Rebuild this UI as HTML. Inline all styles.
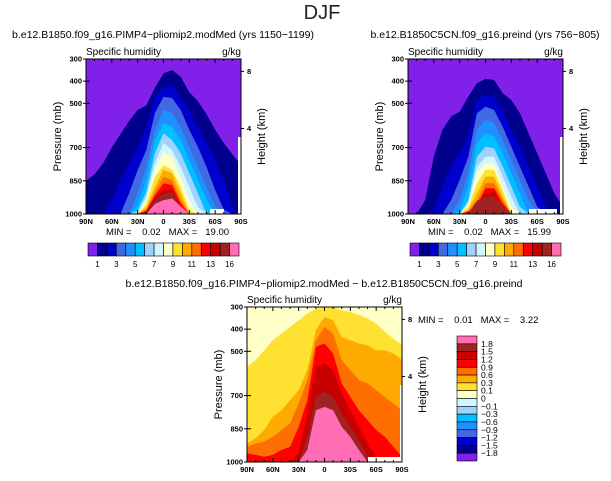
<!DOCTYPE html>
<html><head><meta charset="utf-8">
<style>
html,body{margin:0;padding:0;background:#fff;}
svg{display:block;font-family:"Liberation Sans",sans-serif;}
.pre{white-space:pre;}
</style></head>
<body>
<svg id="chart" width="611" height="481" viewBox="0 0 611 481" xmlns="http://www.w3.org/2000/svg">
<text x="322" y="19" font-size="20" font-weight="300" text-anchor="middle" fill="#222">DJF</text>
<text x="163" y="38" font-size="10.5" text-anchor="middle">b.e12.B1850.f09_g16.PIMP4−pliomip2.modMed (yrs 1150−1199)</text>
<text x="485" y="38" font-size="10.5" text-anchor="middle">b.e12.B1850C5CN.f09_g16.preind (yrs 756−805)</text>
<text x="324" y="287" font-size="10.5" text-anchor="middle">b.e12.B1850.f09_g16.PIMP4−pliomip2.modMed − b.e12.B1850C5CN.f09_g16.preind</text>
</svg>
<script>
// latitude grid (90N .. 90S, positive = north)
const lats = [90,80,70,60,50,40,30,20,10,0,-10,-20,-30,-40,-50,-60,-70,-80,-90];
const xTickLabels = ["90N","60N","30N","0","30S","60S","90S"];
const xTickValues = [90,60,30,0,-30,-60,-90];
const pTickValues = [300,400,500,700,850,1000];
const hTickValues = [8,4];
const hTickPressure = [356,614];
// contour-top pressure (mb) per latitude for each filled level
const panel1Levels = [
 [851,820,770,700,640,580,530,510,430,365,350,380,450,490,550,620,680,730,780],
 [1000,1000,1000,937,846,770,697,607,471,427,417,471,530,607,680,756,846,968,1000],
 [1000,1000,1000,1000,1000,907,801,711,544,471,476,530,620,697,788,892,980,1000,1000],
 [1000,1000,1000,1000,1000,1000,907,788,620,530,544,607,697,788,878,968,1000,1000,1000],
 [1000,1000,1000,1000,1000,1000,960,846,666,589,607,666,756,846,937,1000,1000,1000,1000],
 [1000,1000,1000,1000,1000,1000,985,900,726,635,666,726,816,907,1000,1000,1000,1000,1000],
 [1000,1000,1000,1000,1000,1000,1000,920,770,680,711,788,878,968,1000,1000,1000,1000,1000],
 [1000,1000,1000,1000,1000,1000,1000,940,801,720,741,833,937,1000,1000,1000,1000,1000,1000],
 [1000,1000,1000,1000,1000,1000,1000,955,833,779,801,878,983,1000,1000,1000,1000,1000,1000],
 [1000,1000,1000,1000,1000,1000,1000,970,878,801,816,907,1000,1000,1000,1000,1000,1000,1000],
 [1000,1000,1000,1000,1000,1000,1000,980,900,833,846,937,1000,1000,1000,1000,1000,1000,1000],
 [1000,1000,1000,1000,1000,1000,1000,985,915,862,869,951,1000,1000,1000,1000,1000,1000,1000],
 [1000,1000,1000,1000,1000,1000,1000,990,925,892,892,968,1000,1000,1000,1000,1000,1000,1000],
 [1000,1000,1000,1000,1000,1000,1000,1000,940,908,900,975,1000,1000,1000,1000,1000,1000,1000],
 [1000,1000,1000,1000,1000,1000,1000,1000,955,937,930,965,1000,1000,1000,1000,1000,1000,1000]
];
const panel2Levels = [
 [1000,1000,937,741,620,560,538,470,410,390,395,455,485,545,636,726,816,907,967],
 [1000,1000,1000,980,876,786,726,651,485,462,470,530,620,696,786,876,967,1000,1000],
 [1000,1000,1000,1000,1000,937,846,741,545,515,530,606,696,786,876,967,1000,1000,1000],
 [1000,1000,1000,1000,1000,1000,937,816,620,575,590,666,756,846,937,1000,1000,1000,1000],
 [1000,1000,1000,1000,1000,1000,985,876,681,636,651,726,816,907,1000,1000,1000,1000,1000],
 [1000,1000,1000,1000,1000,1000,1000,937,741,696,703,786,876,967,1000,1000,1000,1000,1000],
 [1000,1000,1000,1000,1000,1000,1000,950,786,741,741,831,922,1000,1000,1000,1000,1000,1000],
 [1000,1000,1000,1000,1000,1000,1000,960,816,771,771,876,967,1000,1000,1000,1000,1000,1000],
 [1000,1000,1000,1000,1000,1000,1000,970,861,801,801,892,1000,1000,1000,1000,1000,1000,1000],
 [1000,1000,1000,1000,1000,1000,1000,980,907,831,831,922,1000,1000,1000,1000,1000,1000,1000],
 [1000,1000,1000,1000,1000,1000,1000,985,940,861,861,937,1000,1000,1000,1000,1000,1000,1000],
 [1000,1000,1000,1000,1000,1000,1000,990,960,884,884,952,1000,1000,1000,1000,1000,1000,1000],
 [1000,1000,1000,1000,1000,1000,1000,1000,950,907,899,975,1000,1000,1000,1000,1000,1000,1000],
 [1000,1000,1000,1000,1000,1000,1000,1000,940,922,922,960,1000,1000,1000,1000,1000,1000,1000],
 [1000,1000,1000,1000,1000,1000,1000,1000,1000,1000,1000,1000,1000,1000,1000,1000,1000,1000,1000]
];
// difference panel: levels 0.1,0.3,0.6,0.9,1.2,1.5,1.8 (lowest filled = >0.1)
const panel3Levels = [
 [570,540,495,450,420,390,360,330,307,300,300,315,322,335,352,375,412,443,473],
 [916,893,856,796,766,721,676,585,405,345,360,435,450,465,473,495,495,510,540],
 [931,916,908,886,856,826,736,630,450,390,420,540,585,630,645,676,706,736,766],
 [961,968,976,968,946,931,841,721,480,465,510,645,706,766,811,856,886,931,976],
 [1000,1000,1000,1000,1000,1000,961,781,570,555,585,690,766,841,916,976,1000,1000,1000],
 [1000,1000,1000,1000,1000,1000,1000,886,706,683,706,781,841,901,976,1000,1000,1000,1000],
 [1000,1000,1000,1000,1000,1000,1000,946,766,751,766,841,886,946,1000,1000,1000,1000,1000]
];
const seqLabels = ["1","3","5","7","9","11","13","16"];
const diffLabels = ["1.8","1.5","1.2","0.9","0.6","0.3","0.1","0","−0.1","−0.3","−0.6","−0.9","−1.2","−1.5","−1.8"];

const C = ["#8020E8","#00008C","#0000CD","#4169E1","#1E90FF","#00BFFF","#A0D2FF","#D2F5FF","#FFFFC8","#FFE132","#FFAA00","#FF6E00","#FF0000","#C80000","#A02323","#FF6EB4"];
const NS = "http://www.w3.org/2000/svg";
const svg = document.getElementById('chart');
function mk(tag, attrs, parent){const e=document.createElementNS(NS,tag);for(const k in attrs)e.setAttribute(k,attrs[k]);(parent||svg).appendChild(e);return e;}
let clipN=0;
function panel(id, x0, y0, levels, bg, colors, opts){
  const W=155,H=155;
  const X=l=>x0+(90-l)/180*W;
  const Y=p=>y0+(p-300)/700*H;
  const g=mk('g',{});
  
  
  const cid='clip'+(clipN++);
  const cp=mk('clipPath',{id:cid},g);mk('rect',{x:x0,y:y0,width:W,height:H},cp);
  const fg=mk('g',{'clip-path':'url(#'+cid+')'},g);
  const bgr=mk('rect',{x:x0,y:y0,width:W,height:H,fill:bg},fg);
  
  
  levels.forEach((lv,i)=>{
    let d='M'+X(lats[0])+','+Y(1000);
    lv.forEach((p,j)=>{d+=' L'+X(lats[j]).toFixed(1)+','+Y(p).toFixed(1);});
    d+=' L'+X(lats[lats.length-1])+','+Y(1000)+' Z';
    const pa=mk('path',{d:d,fill:colors[i]},fg);
    
    
  });
  opts.white.forEach(r=>{mk('rect',{x:x0+r[0],y:y0+r[1],width:r[2],height:r[3],fill:'#fff'},fg);});
  const fr=mk('rect',{x:x0,y:y0,width:W,height:H,fill:'none',stroke:'#000','stroke-width':1},g);
  
  
  for(let l=90;l>=-90;l-=10){
    const major=(l%30===0), len=major?4:2;
    mk('line',{x1:X(l),x2:X(l),y1:y0+H,y2:y0+H-len,stroke:'#000'},g);
    mk('line',{x1:X(l),x2:X(l),y1:y0,y2:y0+len,stroke:'#000'},g);
  }
  xTickValues.forEach((v,i)=>{
    const t=mk('text',{x:X(v),y:y0+H+10,'font-size':7.5,'font-weight':'bold','text-anchor':'middle'},g);
    t.textContent=xTickLabels[i];
    
    
  });
  pTickValues.forEach(p=>{
    mk('line',{x1:x0,x2:x0+4,y1:Y(p),y2:Y(p),stroke:'#000'},g);
    mk('line',{x1:x0-3,x2:x0,y1:Y(p),y2:Y(p),stroke:'#000'},g);
    const t=mk('text',{x:x0-4,y:Y(p)+2.5,'font-size':7.5,'font-weight':'bold','text-anchor':'end'},g);
    t.textContent=p;
    
    
  });
  hTickValues.forEach((h,i)=>{
    const yy=Y(hTickPressure[i]);
    mk('line',{x1:x0+W,x2:x0+W+3,y1:yy,y2:yy,stroke:'#000'},g);
    const t=mk('text',{x:x0+W+6,y:yy+2.5,'font-size':7.5,'font-weight':'bold'},g);
    t.textContent=h;
    
    
  });
  let t=mk('text',{x:x0,y:y0-4,'font-size':10},g);t.textContent='Specific humidity';
  
  t=mk('text',{x:x0+W,y:y0-4,'font-size':10,'text-anchor':'end'},g);t.textContent='g/kg';
  
  t=mk('text',{x:x0-25,y:y0+H/2,'font-size':11,'text-anchor':'middle',transform:'rotate(-90 '+(x0-25)+' '+(y0+H/2)+')'},g);t.textContent='Pressure (mb)';
  
  t=mk('text',{x:x0+W+24,y:y0+H/2,'font-size':11,'text-anchor':'middle',transform:'rotate(-90 '+(x0+W+24)+' '+(y0+H/2)+')'},g);t.textContent='Height (km)';
  
  if(opts.minmax){
    t=mk('text',{x:opts.minmax[0],y:opts.minmax[1],'font-size':9.5,'class':'pre'},g);t.textContent=opts.minmax[2];
    
  }
}
function hbar(id,x0,y0){
  const g=mk('g',{});
  const w=151/16;
  C.forEach((c,i)=>{const r=mk('rect',{x:x0+i*w,y:y0,width:w,height:13,fill:c,stroke:'#000','stroke-width':0.6},g);
    });
  seqLabels.forEach((s,i)=>{const t=mk('text',{x:x0+(1+2*i)*w,y:y0+24,'font-size':8,'text-anchor':'middle'},g);t.textContent=s;
    });
}
panel('panel1',86,59,panel1Levels,C[0],C.slice(1),{white:[[152,78,3,77],[124,150,14,5]],minmax:[106,235,'MIN =    0.02   MAX =   19.00']});
panel('panel2',408,59,panel2Levels,C[0],C.slice(1),{white:[[152,78,3,77],[121,150,28,5]],minmax:[428,235,'MIN =    0.02   MAX =   15.99']});
panel('panel3',247,307,panel3Levels,C[8],["#FFE132","#FFAA00","#FF6E00","#FF0000","#C80000","#A02323","#FF6EB4"],{white:[[153,78,2,77],[121,150,32,5]],minmax:[418,323,'MIN =    0.01   MAX =    3.22']});
hbar('panel1-colorbar',88,243);
hbar('panel2-colorbar',410,243);
(function(){
  const g=mk('g',{});
  const x0=457,y0=336,h=125/16;
  const rev=C.slice().reverse();
  rev.forEach((c,i)=>{const r=mk('rect',{x:x0,y:y0+i*h,width:20,height:h,fill:c,stroke:'#000','stroke-width':0.6},g);
    });
  diffLabels.forEach((s,i)=>{const t=mk('text',{x:x0+24,y:y0+(i+1)*h+3,'font-size':8.5},g);t.textContent=s;
    });
})();
</script>
</body></html>
